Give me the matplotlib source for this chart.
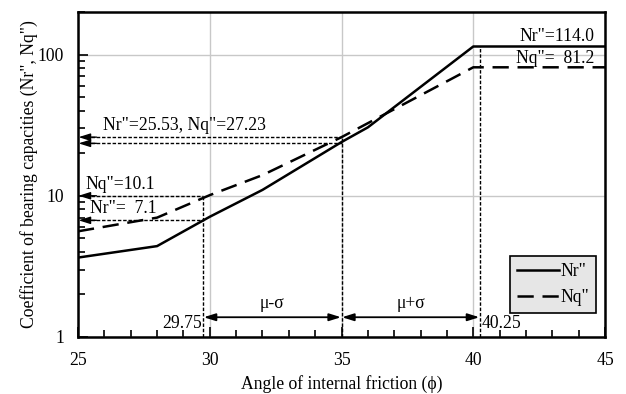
import matplotlib
matplotlib.use("Agg")
import matplotlib.pyplot as plt
from matplotlib.ticker import LogLocator, NullFormatter, FixedLocator

plt.rcParams['font.family'] = ['Liberation Serif', 'DejaVu Serif']

# curves
phi_nr = [25, 28, 30, 32, 35, 36, 40, 45]
nr = [3.65, 4.4, 7.1, 11.0, 24.0, 30.5, 114.0, 114.0]
phi_nq = [25, 28, 30, 32, 35, 40, 45]
nq = [5.6, 7.0, 10.1, 14.0, 26.0, 81.2, 81.2]

# marked points
phi_lo, phi_mid, phi_hi = 29.75, 35, 40.25
lo_nq, lo_nr = 10.0, 6.7
mid_nq, mid_nr = 26.0, 23.5
hi_nr = 114.0
arrow_y = 1.38

fig = plt.figure(figsize=(6.26, 3.94), dpi=100)
ax = fig.add_axes([0.1246, 0.1447, 0.8419, 0.8248])

ax.set_yscale('log')
ax.set_xlim(25, 45)
ax.set_ylim(1, 200)

ax.grid(True, which='major', color='#c8c8c8', lw=1.0)
ax.set_axisbelow(True)

ax.plot(phi_nr, nr, color='black', lw=1.8, label='Nr"', zorder=4)
ax.plot(phi_nq, nq, color='black', lw=1.8, ls=(0, (6.5, 3.5)), label='Nq"', zorder=4)

dot = dict(color='black', lw=1.0, ls=(0, (2.5, 1.3)), zorder=3)
# vertical guides
ax.plot([phi_lo, phi_lo], [1, lo_nq], **dot)
ax.plot([phi_mid, phi_mid], [1, mid_nq], **dot)
ax.plot([phi_hi, phi_hi], [1, hi_nr], **dot)

# horizontal arrows to y axis
for x0, yv in [(phi_lo, lo_nq), (phi_lo, lo_nr), (phi_mid, mid_nq), (phi_mid, mid_nr)]:
    ax.plot([25.5, x0], [yv, yv], **dot)
    ax.annotate('', xy=(25.02, yv), xytext=(25.7, yv),
                arrowprops=dict(arrowstyle='-|>,head_length=0.7,head_width=0.22',
                                color='black', lw=1.0, shrinkA=0, shrinkB=0), zorder=5)

# range arrows at bottom
for a, b in [(phi_lo, phi_mid), (phi_mid, phi_hi)]:
    ax.annotate('', xy=(a + 0.02, arrow_y), xytext=(b - 0.02, arrow_y),
                arrowprops=dict(arrowstyle='<|-|>,head_length=0.7,head_width=0.22',
                                color='black', lw=1.3, shrinkA=0, shrinkB=0), zorder=5)

fs = 12.7
ax.text((phi_lo + phi_mid) / 2, 1.5, 'μ-σ', ha='center', va='bottom', fontsize=fs)
ax.text((phi_mid + phi_hi) / 2, 1.5, 'μ+σ', ha='center', va='bottom', fontsize=fs)
ax.text(phi_lo - 0.05, 1.08, '29.75', ha='right', va='bottom', fontsize=fs)
ax.text(phi_hi + 0.05, 1.08, '40.25', ha='left', va='bottom', fontsize=fs)

ax.text(25.95, 27.5, 'Nr"=25.53, Nq"=27.23', ha='left', va='bottom', fontsize=fs)
ax.text(25.3, 10.4, 'Nq"=10.1', ha='left', va='bottom', fontsize=fs)
ax.text(25.45, 7.1, 'Nr"=  7.1', ha='left', va='bottom', fontsize=fs)
ax.text(44.6, 116, 'Nr"=114.0', ha='right', va='bottom', fontsize=fs)
ax.text(44.6, 82, 'Nq"=  81.2', ha='right', va='bottom', fontsize=fs)

# ticks
ax.xaxis.set_major_locator(FixedLocator([25, 30, 35, 40, 45]))
ax.xaxis.set_minor_locator(FixedLocator([x for x in range(26, 45) if x % 5]))
ax.yaxis.set_major_locator(FixedLocator([1, 10, 100]))
ax.yaxis.set_major_formatter(plt.FuncFormatter(lambda v, p: '%d' % v))
ax.yaxis.set_minor_locator(LogLocator(base=10, subs=range(2, 10)))
ax.yaxis.set_minor_formatter(NullFormatter())
ax.tick_params(which='both', direction='in', labelsize=fs, color='black')
ax.tick_params(which='major', length=7, width=1.2)
ax.tick_params(which='minor', length=5, width=1.2)
ax.tick_params(axis='y', which='major', pad=10)
ax.tick_params(axis='x', which='major', pad=11)
for s in ax.spines.values():
    s.set_linewidth(1.8)

ax.set_xlabel('Angle of internal friction (ϕ)', fontsize=fs, labelpad=4)
ax.set_ylabel('Coefficient of bearing capacities (Nr", Nq")', fontsize=fs, labelpad=0)

leg = ax.legend(loc='lower right', bbox_to_anchor=(0.983, 0.074), fontsize=fs,
                frameon=True, fancybox=False, facecolor='#e6e6e6', edgecolor='black',
                handlelength=2.4, handletextpad=0.05, borderpad=0.4, labelspacing=0.5,
                borderaxespad=0)
leg.get_frame().set_linewidth(1.2)
leg.get_frame().set_alpha(1)

fig.savefig('out.png', dpi=100)
